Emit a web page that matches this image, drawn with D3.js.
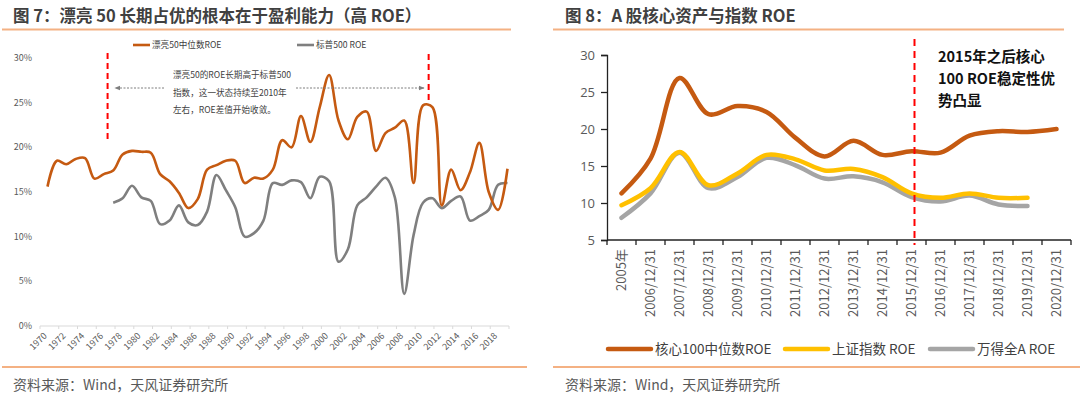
<!DOCTYPE html>
<html>
<head>
<meta charset="utf-8">
<script src="https://cdn.jsdelivr.net/npm/d3@7"></script>
<style>
  body { margin: 0; background: #fff; }
  svg { display: block; font-family: "Noto Sans CJK SC", "Noto Sans", sans-serif; }
</style>
</head>
<body>
<div id="chart"></div>
<script>
// 图7 数据：漂亮50 vs 标普500 ROE (%)
var yearsL = d3.range(1970, 2020);
var p50Roe = [15.6, 18.5, 18.1, 18.7, 18.8, 16.5, 17.0, 17.4, 19.2, 19.6,
              19.5, 19.4, 17.0, 16.2, 14.9, 13.2, 14.2, 17.5, 18.0, 18.5,
              18.5, 16.0, 16.6, 16.5, 17.5, 20.8, 20.0, 23.5, 20.6, 24.5,
              28.1, 23.0, 20.9, 23.4, 24.0, 19.6, 21.6, 22.2, 23.0, 16.0,
              24.7, 24.5, 13.5, 17.5, 15.2, 17.2, 20.5, 15.0, 13.0, 17.6];
var spYears = d3.range(1977, 2020);
var spRoe = [13.8, 14.3, 15.7, 14.4, 14.0, 11.4, 11.8, 13.5, 11.6, 11.3,
             12.8, 16.9, 15.2, 13.3, 10.0, 10.4, 11.8, 16.0, 15.8, 16.3,
             16.1, 14.3, 16.7, 16.2, 7.2, 8.6, 13.5, 14.4, 15.6, 16.6,
             14.4, 3.6, 10.2, 13.8, 14.3, 13.2, 14.0, 14.5, 11.8, 12.3,
             13.0, 15.8, 16.0];
var yTicksL = [0, 5, 10, 15, 20, 25, 30];
var xLabelYearsL = d3.range(1970, 2020, 2);

// 图8 数据：核心资产与指数 ROE
var catsR = ["2005年", "2006/12/31", "2007/12/31", "2008/12/31", "2009/12/31", "2010/12/31",
             "2011/12/31", "2012/12/31", "2013/12/31", "2014/12/31", "2015/12/31",
             "2016/12/31", "2017/12/31", "2018/12/31", "2019/12/31", "2020/12/31"];
var core100 = [11.3, 16.0, 26.9, 22.0, 23.1, 22.3, 18.8, 16.3, 18.4, 16.5, 17.0, 16.8, 19.1, 19.7, 19.6, 20.0];
var szIndex = [9.7, 12.0, 16.9, 12.4, 14.0, 16.5, 15.9, 14.4, 14.6, 13.5, 11.3, 10.7, 11.3, 10.7, 10.7];
var windA   = [8.0, 11.3, 16.8, 12.0, 13.5, 16.1, 15.1, 13.3, 13.6, 12.8, 10.8, 10.2, 11.0, 9.8, 9.6];
var yTicksR = [5, 10, 15, 20, 25, 30];

var W = 1080, H = 399;
var svg = d3.select("#chart").append("svg").attr("width", W).attr("height", H);

var ORANGE = "#c55a11", GRAY = "#7f7f7f", YELLOW = "#ffc000", LGRAY = "#a5a5a5", RULE = "#f4b183";

// 标题与分隔线
function frame(x0, x1, tx, title) {
    svg.append("text").attr("x", tx).attr("y", 22)
        .style("font-size", "16.5px").style("font-weight", "bold").attr("fill", "#404040")
        .text(title);
    svg.append("line").attr("x1", x0).attr("x2", x1).attr("y1", 29.5).attr("y2", 29.5)
        .attr("stroke", RULE).attr("stroke-width", 2);
    svg.append("line").attr("x1", x0).attr("x2", x1 + 16).attr("y1", 367).attr("y2", 367)
        .attr("stroke", RULE).attr("stroke-width", 2);
    svg.append("text").attr("x", tx).attr("y", 390)
        .style("font-size", "14px").attr("fill", "#595959")
        .text("资料来源：Wind，天风证券研究所");
}
frame(2, 511, 13, "图 7：漂亮 50 长期占优的根本在于盈利能力（高 ROE）");
frame(553, 1064, 565, "图 8：A 股核心资产与指数 ROE");

// ===== 左图 =====
var xTickL = d3.scaleLinear().domain([1970, 2020]).range([40, 509]);
var xL = d3.scaleLinear().domain([1970, 2019]).range([47.5, 507.5]);
var yL = d3.scaleLinear().domain([0, 30]).range([326, 58]);

var gL = svg.append("g");
gL.append("line").attr("x1", 40).attr("x2", 509).attr("y1", yL(0)).attr("y2", yL(0))
    .attr("stroke", "#d9d9d9");
gL.selectAll(".ltick").data(d3.range(1970, 2021, 2)).enter().append("line")
    .attr("x1", d => xTickL(d)).attr("x2", d => xTickL(d))
    .attr("y1", yL(0)).attr("y2", yL(0) + 3).attr("stroke", "#d9d9d9");
gL.selectAll(".lxl").data(xLabelYearsL).enter().append("text")
    .attr("transform", d => "translate(" + (xTickL(d) + 3) + "," + (yL(0) + 6) + ") rotate(-45)")
    .attr("text-anchor", "end").attr("dy", "0.7em")
    .style("font-size", "9px").attr("fill", "#595959").text(d => d);
gL.selectAll(".lyl").data(yTicksL).enter().append("text")
    .attr("x", 32).attr("y", d => yL(d)).attr("dy", "0.35em").attr("text-anchor", "end")
    .style("font-size", "9px").attr("fill", "#595959").text(d => d + "%");

var lineL = d3.line().curve(d3.curveCatmullRom).x(d => xL(d[0])).y(d => yL(d[1]));
gL.append("path").datum(spYears.map((y, i) => [y, spRoe[i]]))
    .attr("d", lineL).attr("fill", "none").attr("stroke", GRAY).attr("stroke-width", 2.6);
gL.append("path").datum(yearsL.map((y, i) => [y, p50Roe[i]]))
    .attr("d", lineL).attr("fill", "none").attr("stroke", ORANGE).attr("stroke-width", 2.6);

// 红色虚线
[[1976.4, 53, 143], [2010.6, 54, 103]].forEach(function(r) {
    gL.append("line").attr("x1", xL(r[0])).attr("x2", xL(r[0])).attr("y1", r[1]).attr("y2", r[2])
        .attr("stroke", "#ff0000").attr("stroke-width", 2).attr("stroke-dasharray", "6,4");
});

// 箭头与注释
var defs = svg.append("defs");
defs.append("marker").attr("id", "arr").attr("viewBox", "0 0 10 10").attr("refX", 9).attr("refY", 5)
    .attr("markerWidth", 6).attr("markerHeight", 6).attr("orient", "auto")
    .append("path").attr("d", "M0,1 L10,5 L0,9 Z").attr("fill", "#7f7f7f");
gL.append("line").attr("x1", 164).attr("x2", 115).attr("y1", 88).attr("y2", 88)
    .attr("stroke", "#7f7f7f").attr("stroke-dasharray", "2,1.5").attr("marker-end", "url(#arr)");
gL.append("line").attr("x1", 296).attr("x2", 424).attr("y1", 88).attr("y2", 88)
    .attr("stroke", "#7f7f7f").attr("stroke-dasharray", "2,1.5").attr("marker-end", "url(#arr)");
["漂亮50的ROE长期高于标普500", "指数，这一状态持续至2010年", "左右，ROE差值开始收敛。"].forEach(function(t, i) {
    gL.append("text").attr("x", 173).attr("y", 75 + i * 17.5).attr("dy", "0.35em")
        .style("font-size", "8.6px").attr("fill", "#404040").text(t);
});

// 图例
[[133, ORANGE, "漂亮50中位数ROE"], [297, GRAY, "标普500 ROE"]].forEach(function(l) {
    gL.append("line").attr("x1", l[0]).attr("x2", l[0] + 17).attr("y1", 45).attr("y2", 45)
        .attr("stroke", l[1]).attr("stroke-width", 2.6);
    gL.append("text").attr("x", l[0] + 19).attr("y", 45).attr("dy", "0.35em")
        .style("font-size", "8.6px").attr("fill", "#404040").text(l[2]);
});

// ===== 右图 =====
var xR = d3.scaleBand().domain(catsR).range([607, 1071]);
var yR = d3.scaleLinear().domain([5, 30]).range([240, 55]);
var gR = svg.append("g");

gR.append("g").attr("transform", "translate(607,0)")
    .call(d3.axisLeft(yR).tickValues(yTicksR).tickSize(6).tickPadding(6))
    .call(g => g.select(".domain").attr("stroke", "#222").attr("stroke-width", 1.3))
    .call(g => g.selectAll(".tick line").attr("stroke", "#222").attr("stroke-width", 1.3))
    .call(g => g.selectAll("text").style("font-size", "13px").attr("fill", "#595959")
        .style("font-family", "'Open Sans', sans-serif"));

var xAxR = gR.append("g").attr("transform", "translate(0,240)");
xAxR.append("line").attr("x1", 607).attr("x2", 1071).attr("stroke", "#222").attr("stroke-width", 1.3);
xAxR.selectAll(".rt").data(catsR.concat(["end"])).enter().append("line")
    .attr("x1", (d, i) => 607 + i * xR.bandwidth()).attr("x2", (d, i) => 607 + i * xR.bandwidth())
    .attr("y1", 0).attr("y2", 5).attr("stroke", "#222").attr("stroke-width", 1.3);
xAxR.selectAll(".rl").data(catsR).enter().append("text")
    .attr("transform", d => "translate(" + (xR(d) + xR.bandwidth() / 2) + ",9) rotate(-90)")
    .attr("text-anchor", "end").attr("dy", "0.35em")
    .style("font-size", "13px").style("font-family", "'Noto Sans CJK SC', 'Open Sans', sans-serif")
    .attr("fill", "#595959").text(d => d);

var lineR = d3.line().curve(d3.curveCatmullRom)
    .x((d, i) => xR(catsR[i]) + xR.bandwidth() / 2).y(d => yR(d));
[[windA, LGRAY], [szIndex, YELLOW], [core100, ORANGE]].forEach(function(s) {
    gR.append("path").datum(s[0]).attr("d", lineR).attr("fill", "none")
        .attr("stroke", s[1]).attr("stroke-width", 4.5).attr("stroke-linecap", "round");
});

var xRed = xR("2015/12/31") + xR.bandwidth() / 2 + 3;
gR.append("line").attr("x1", xRed).attr("x2", xRed).attr("y1", 39).attr("y2", 245)
    .attr("stroke", "#ff0000").attr("stroke-width", 2).attr("stroke-dasharray", "7,5");

["2015年之后核心", "100 ROE稳定性优", "势凸显"].forEach(function(t, i) {
    gR.append("text").attr("x", 938).attr("y", 57 + i * 22).attr("dy", "0.35em")
        .style("font-size", "14.5px").style("font-weight", "bold").attr("fill", "#111").text(t);
});

[[608, ORANGE, "核心100中位数ROE"], [785, YELLOW, "上证指数 ROE"], [930, LGRAY, "万得全A ROE"]].forEach(function(l) {
    gR.append("line").attr("x1", l[0]).attr("x2", l[0] + 43).attr("y1", 349).attr("y2", 349)
        .attr("stroke", l[1]).attr("stroke-width", 4.5).attr("stroke-linecap", "round");
    gR.append("text").attr("x", l[0] + 47).attr("y", 349).attr("dy", "0.35em")
        .style("font-size", "13.5px").attr("fill", "#404040").text(l[2]);
});
</script>
</body>
</html>
